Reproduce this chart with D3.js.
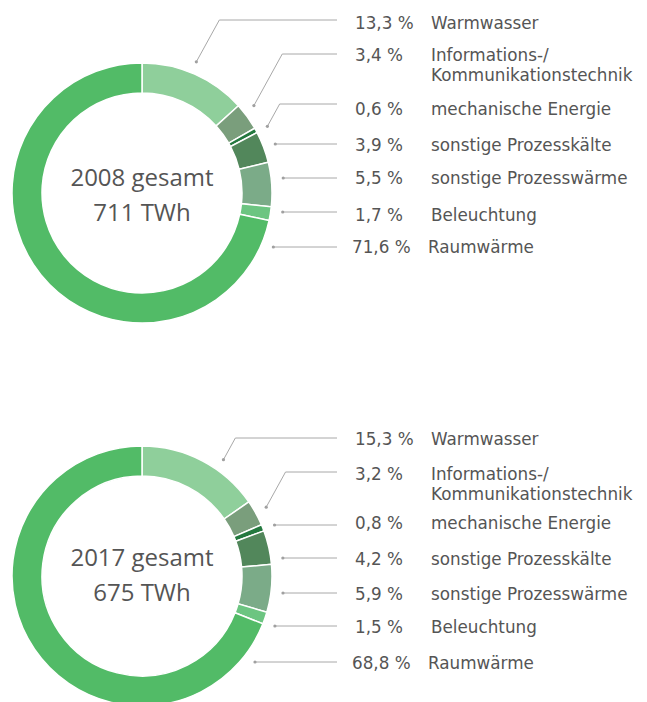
<!DOCTYPE html>
<html>
<head>
<meta charset="utf-8">
<script src="https://cdn.jsdelivr.net/npm/d3@7"></script>
<style>
  body { margin: 0; background: #fff; }
  svg { display: block; }
  text { font-family: "DejaVu Sans", sans-serif; fill: #555; }
</style>
</head>
<body>
<div id="chart"></div>
<script>
// Data
var categories = ["Warmwasser", "Informations-/|Kommunikationstechnik", "mechanische Energie",
  "sonstige Prozesskälte", "sonstige Prozesswärme", "Beleuchtung", "Raumwärme"];
var share2008 = [13.3, 3.4, 0.6, 3.9, 5.5, 1.7, 71.6];
var share2017 = [15.3, 3.2, 0.8, 4.2, 5.9, 1.5, 68.8];
var years = ["2008", "2017"];
var totals = [711, 675];
var sliceColors = ["#8fcf9b", "#7a9e7c", "#24793f", "#52875b", "#7bab88", "#6cc581", "#52bb67"];

// Layout
var width = 647, height = 702;
var cx = 142, outerR = 130, innerR = 100, dotR = 142, lineEndX = 337;
var pctX = 355, nameX = 431;
var panels = [
  { values: share2008, year: years[0], total: totals[0], cy: 193, centerY: [186, 221],
    lineY: [20, 54, 104, 144, 178, 212, 247], textY: [29, 61, 115, 151, 184, 221, 253],
    anchor: [22.5, 52, 62, null, null, null, null] },
  { values: share2017, year: years[1], total: totals[1], cy: 576, centerY: [566, 601],
    lineY: [438, 472, 525, 558, 593, 626, 662], textY: [445, 480, 529, 565, 600, 633, 669],
    anchor: [35, 61, null, null, null, null, null] }
];
var rowShift = [0, 0, 0, 0, 0, 0, -3];

var svg = d3.select("#chart").append("svg")
    .attr("width", width)
    .attr("height", height);

var pie = d3.pie().sort(null).value(function(d) { return d; });
var arc = d3.arc().innerRadius(innerR).outerRadius(outerR);
var fmt = function(v) { return d3.format(".1f")(v).replace(".", ","); };

panels.forEach(function(p) {
  var g = svg.append("g").attr("transform", "translate(" + cx + "," + p.cy + ")");
  var arcs = pie(p.values);

  g.selectAll("path.slice")
    .data(arcs)
    .enter().append("path")
      .attr("class", "slice")
      .attr("d", arc)
      .style("fill", function(d, i) { return sliceColors[i]; })
      .style("stroke", "#fff")
      .style("stroke-width", 1.5);

  // centre label
  [p.year + " gesamt", p.total + " TWh"].forEach(function(s, k) {
    g.append("text")
        .attr("x", 0).attr("y", p.centerY[k] - p.cy)
        .attr("text-anchor", "middle")
        .style("font-family", "'Open Sans', sans-serif")
        .style("font-size", "24px")
        .text(s);
  });

  // leader lines + labels
  arcs.forEach(function(a, i) {
    var ly = p.lineY[i] - p.cy;
    var pts;
    if (p.anchor[i] !== null) {
      var ang = p.anchor[i] * Math.PI / 180;
      var dx = dotR * Math.sin(ang), dy = -dotR * Math.cos(ang);
      var bx = dx + (dy - ly) * 0.55;
      pts = [[dx, dy], [bx, ly], [lineEndX - cx, ly]];
    } else {
      var hx = Math.sqrt(dotR * dotR - ly * ly);
      pts = [[hx, ly], [lineEndX - cx, ly]];
    }
    g.append("path")
        .attr("d", d3.line()(pts))
        .style("fill", "none")
        .style("stroke", "#a8a8a8")
        .style("stroke-width", 1);
    g.append("circle")
        .attr("cx", pts[0][0]).attr("cy", pts[0][1])
        .attr("r", 1.6)
        .style("fill", "#a0a0a0");

    var ty = p.textY[i] - p.cy;
    g.append("text")
        .attr("x", pctX + rowShift[i] - cx).attr("y", ty)
        .style("font-size", "16.8px")
        .text(fmt(p.values[i]) + " %");
    var t = g.append("text")
        .attr("x", nameX + rowShift[i] - cx).attr("y", ty)
        .style("font-size", "16.8px");
    categories[i].split("|").forEach(function(line, k) {
      t.append("tspan")
        .attr("x", nameX + rowShift[i] - cx)
        .attr("dy", k === 0 ? 0 : 19.6)
        .text(line);
    });
  });
});
</script>
</body>
</html>
